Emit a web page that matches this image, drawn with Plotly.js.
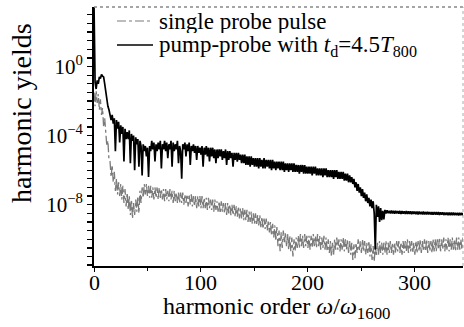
<!DOCTYPE html>
<html>
<head>
<meta charset="utf-8">
<script src="https://cdn.plot.ly/plotly-3.0.1.min.js"></script>
<style>html,body{margin:0;padding:0;background:#fff;}#chart{width:464px;height:327px;}</style>
</head>
<body>
<div id="chart"></div>
<script>
// harmonic order grid: 0..345 in steps of 1
const harmonicStart = 0;
const harmonicStep = 1;

// log10 of harmonic yield, pump-probe with t_d = 4.5 T800
const pumpProbeLog10 = [
 3.6, -0.9, -1.3, -0.8, -1.0, -0.6, -0.7, -0.45, -0.55, -0.6,
 -1.0, -1.5, -1.8, -2.3, -2.5, -2.9, -3.1, -2.8, -3.3, -3.0,
 -4.9, -3.1, -3.6, -3.2, -4.4, -3.4, -3.9, -3.5, -5.5, -3.6,
 -4.2, -3.8, -4.2, -3.7, -5.6, -3.9, -4.3, -4.0, -6.0, -4.1,
 -4.5, -4.2, -5.8, -4.3, -4.6, -6.3, -4.5, -4.9, -4.6, -5.2,
 -4.7, -6.4, -4.6, -4.9, -4.3, -4.8, -4.4, -5.5, -4.5, -4.9,
 -4.4, -4.8, -4.3, -5.9, -4.5, -4.8, -4.3, -4.9, -4.4, -5.3,
 -4.5, -4.8, -4.3, -5.8, -4.4, -4.9, -4.5, -4.8, -4.3, -5.6,
 -4.6, -4.9, -6.5, -4.5, -4.8, -4.4, -5.2, -4.5, -4.9, -4.4,
 -5.7, -4.6, -4.9, -4.5, -5.0, -4.6, -5.4, -4.6, -5.0, -4.7,
 -5.1, -4.6, -5.8, -4.7, -5.1, -4.6, -5.2, -4.7, -5.5, -4.7,
 -5.2, -4.7, -5.3, -4.8, -5.6, -4.8, -5.3, -4.8, -5.2, -4.8,
 -5.4, -4.9, -5.3, -4.8, -5.7, -4.9, -5.4, -4.9, -5.3, -5.0,
 -5.8, -5.0, -5.4, -5.0, -5.5, -5.0, -5.4, -5.1, -5.6, -5.1,
 -5.6, -5.1, -5.7, -5.2, -5.7, -5.2, -5.8, -5.2, -5.7, -5.3,
 -5.8, -5.3, -5.8, -5.3, -5.9, -5.3, -5.8, -5.4, -5.9, -5.3,
 -5.9, -5.4, -5.8, -5.4, -5.9, -5.4, -6.0, -5.4, -5.9, -5.5,
 -6.0, -5.5, -5.9, -5.5, -6.0, -5.5, -6.0, -5.5, -6.1, -5.6,
 -6.0, -5.6, -6.1, -5.6, -6.0, -5.6, -6.1, -5.6, -6.1, -5.7,
 -6.1, -5.7, -6.2, -5.7, -6.1, -5.7, -6.2, -5.7, -6.2, -5.8,
 -6.2, -5.8, -6.2, -5.8, -6.3, -5.8, -6.2, -5.8, -6.3, -5.9,
 -6.3, -5.9, -6.3, -5.9, -6.4, -5.9, -6.3, -5.9, -6.4, -6.0,
 -6.4, -6.0, -6.4, -6.0, -6.5, -6.0, -6.4, -6.0, -6.5, -6.1,
 -6.5, -6.1, -6.5, -6.1, -6.6, -6.2, -6.6, -6.2, -6.7, -6.3,
 -6.7, -6.4, -6.8, -6.5, -7.0, -6.7, -7.2, -6.8, -7.3, -7.0,
 -7.5, -7.1, -7.6, -7.3, -7.8, -7.4, -7.9, -7.6, -8.1, -7.7,
 -8.2, -7.8, -8.5, -10.6, -8.0, -8.7, -8.1, -9.0, -8.2, -8.9,
 -8.35, -8.85, -8.30, -8.50, -8.33, -8.49, -8.35, -8.51, -8.34, -8.50,
 -8.36, -8.52, -8.35, -8.51, -8.37, -8.52, -8.36, -8.53, -8.37, -8.52,
 -8.38, -8.53, -8.37, -8.54, -8.39, -8.53, -8.38, -8.55, -8.39, -8.54,
 -8.40, -8.55, -8.39, -8.56, -8.40, -8.55, -8.41, -8.56, -8.40, -8.57,
 -8.42, -8.56, -8.41, -8.57, -8.42, -8.57, -8.43, -8.58, -8.42, -8.57,
 -8.43, -8.58, -8.43, -8.59, -8.44, -8.58, -8.44, -8.60, -8.45, -8.59,
 -8.45, -8.60, -8.45, -8.61, -8.46, -8.60, -8.46, -8.61, -8.47, -8.61,
 -8.47, -8.62, -8.47, -8.61, -8.48, -8.62
];

// log10 of harmonic yield, single probe pulse
const singleProbeLog10 = [
 -1.5, -2.3, -1.4, -2.1, -1.6, -2.5, -1.9, -2.8, -2.4, -3.5,
 -3.0, -4.1, -4.6, -4.3, -5.4, -5.5, -6.4, -5.7, -6.7, -6.1,
 -7.2, -6.5, -7.4, -6.7, -7.5, -6.8, -7.7, -6.9, -7.9, -7.1,
 -8.1, -7.3, -8.3, -7.5, -8.6, -7.7, -8.8, -7.9, -8.6, -7.7,
 -8.4, -7.5, -8.5, -7.2, -7.9, -7.0, -7.6, -6.8, -7.4, -6.8,
 -7.5, -6.9, -7.6, -6.9, -7.6, -7.0, -7.7, -7.0, -7.6, -7.0,
 -7.7, -7.0, -7.6, -7.1, -7.7, -7.1, -7.8, -7.1, -7.7, -7.2,
 -7.8, -7.1, -7.7, -7.2, -7.9, -7.2, -7.8, -7.3, -7.9, -7.3,
 -7.9, -7.3, -7.9, -7.3, -8.0, -7.4, -7.9, -7.4, -8.1, -7.4,
 -8.0, -7.4, -8.1, -7.5, -8.1, -7.5, -8.2, -7.5, -8.1, -7.5,
 -8.2, -7.5, -8.2, -7.6, -8.2, -7.6, -8.3, -7.6, -8.2, -7.7,
 -8.3, -7.7, -8.4, -7.7, -8.3, -7.8, -8.4, -7.8, -8.5, -7.8,
 -8.4, -7.9, -8.5, -7.9, -8.6, -7.9, -8.5, -8.0, -8.6, -8.0,
 -8.6, -8.0, -8.7, -8.1, -8.7, -8.1, -8.8, -8.2, -8.8, -8.2,
 -8.9, -8.3, -8.9, -8.3, -9.0, -8.4, -9.0, -8.4, -9.1, -8.5,
 -9.1, -8.5, -9.2, -8.6, -9.2, -8.6, -9.3, -8.7, -9.4, -8.8,
 -9.4, -8.8, -9.5, -8.9, -9.6, -9.0, -9.8, -9.1, -9.9, -9.2,
 -10.1, -9.3, -10.4, -9.5, -10.7, -9.6, -10.5, -9.5, -10.2, -9.6,
 -10.4, -9.7, -10.6, -9.8, -10.7, -9.9, -11.0, -10.0, -10.7, -9.9,
 -10.5, -9.8, -10.5, -9.7, -10.4, -9.8, -10.5, -9.7, -10.4, -9.8,
 -10.5, -9.8, -10.6, -9.8, -10.5, -9.7, -10.4, -9.8, -10.5, -9.7,
 -10.4, -9.8, -10.6, -9.9, -10.5, -9.8, -10.6, -9.9, -10.7, -10.0,
 -10.8, -10.1, -11.0, -10.2, -10.9, -10.0, -10.6, -9.9, -10.6, -10.0,
 -10.7, -10.0, -10.6, -9.9, -10.7, -10.0, -10.6, -10.0, -10.8, -10.1,
 -10.9, -10.2, -11.2, -10.3, -11.1, -10.2, -10.8, -10.0, -10.7, -10.1,
 -10.8, -10.0, -10.7, -10.1, -10.9, -10.2, -10.8, -10.1, -11.0, -10.3,
 -11.2, -10.4, -11.3, -10.3, -11.0, -10.2, -10.9, -10.1, -10.8, -10.2,
 -10.9, -10.2, -10.8, -10.1, -10.9, -10.2, -10.8, -10.1, -10.8, -10.2,
 -10.9, -10.2, -10.8, -10.1, -10.7, -10.1, -10.8, -10.2, -10.9, -10.1,
 -10.8, -10.1, -10.7, -10.0, -10.8, -10.1, -10.7, -10.1, -10.8, -10.2,
 -10.9, -10.1, -10.8, -10.1, -10.7, -10.0, -10.8, -10.1, -10.7, -10.0,
 -10.7, -10.0, -10.8, -10.1, -10.7, -10.1, -10.8, -10.0, -10.7, -10.0,
 -10.7, -10.0, -10.6, -9.9, -10.7, -10.0, -10.6, -9.9, -10.7, -10.0,
 -10.6, -9.9, -10.7, -10.0, -10.6, -9.9, -10.6, -10.0, -10.7, -9.9,
 -10.6, -9.9, -10.6, -10.0, -10.6, -9.9
];

const seriesNames = [
  'single probe pulse',
  'pump-probe with <i>t</i><sub>d</sub>=4.5<i>T</i><sub>800</sub>'
];
const xTitle = 'harmonic order <i>\u03c9</i>/<i>\u03c9</i><sub>1600</sub>';
const yTitle = 'harmonic yields';
const xTickVals = [0, 100, 200, 300];
const xTickText = ['0', '100', '200', '300'];
const xMinorVals = [50, 150, 250];
const yLabelExp = [0, -4, -8];
const yLabelText = ['10<sup>0</sup>', '10<sup>\u22124</sup>', '10<sup>\u22128</sup>'];

const toYield = a => a.map(v => Math.pow(10, v));
const orders = a => a.map((_, i) => harmonicStart + i * harmonicStep);

// unlabeled tick marks on the other decades and every half decade
const yMinor = [];
for (let e = 3.5; e >= -11.5; e -= 0.5) {
  if (!yLabelExp.includes(e)) yMinor.push(Math.pow(10, e));
}

const serif = "'Liberation Serif', 'Times New Roman', serif";
const lineColors = ['#7a7a7a', '#000000'];

const traces = [
  {
    x: orders(singleProbeLog10), y: toYield(singleProbeLog10),
    type: 'scatter', mode: 'lines', name: seriesNames[0], showlegend: false,
    line: {color: lineColors[0], width: 1.3, dash: 'dashdot'}
  },
  {
    x: orders(pumpProbeLog10), y: toYield(pumpProbeLog10),
    type: 'scatter', mode: 'lines', name: seriesNames[1], showlegend: false,
    line: {color: lineColors[1], width: 1.7}
  }
];

// plot area in pixels: x 94..463, y 7..266
const L = 94, T = 7, W = 369, H = 259;
const px = v => (v - L) / W;
const py = v => (T + H - v) / H;

// x tick labels placed as text right under the axis (as in the reference)
const xTickLabels = xTickVals.map((v, i) => ({
  xref: 'x', yref: 'paper', x: v, y: py(282), xanchor: 'center', yanchor: 'middle',
  text: xTickText[i], showarrow: false, font: {family: serif, size: 22, color: '#000'}
}));

const layout = {
  width: 464, height: 327,
  margin: {l: L, r: 464 - L - W, t: T, b: 327 - T - H, pad: 0},
  paper_bgcolor: '#ffffff', plot_bgcolor: '#ffffff',
  showlegend: false,
  xaxis: {
    range: [0, 345], showgrid: false, zeroline: false, automargin: false,
    showline: true, linecolor: '#000', linewidth: 1.5,
    ticks: 'outside', ticklen: 4, tickwidth: 1, tickcolor: '#000',
    tickmode: 'array', tickvals: xTickVals, showticklabels: false,
    minor: {tickmode: 'array', tickvals: xMinorVals, ticks: 'outside', ticklen: 3, tickcolor: '#000'}
  },
  yaxis: {
    type: 'log', range: [-11.55, 3.45], showgrid: false, zeroline: false, automargin: false,
    showline: true, linecolor: '#000', linewidth: 2,
    ticks: 'outside', ticklen: 5, tickwidth: 1.5, tickcolor: '#000',
    tickmode: 'array', tickvals: yLabelExp.map(e => Math.pow(10, e)), ticktext: yLabelText,
    minor: {tickmode: 'array', tickvals: yMinor, ticks: 'outside', ticklen: 5, tickwidth: 1.3, tickcolor: '#000'},
    tickfont: {family: serif, size: 21, color: '#000'}
  },
  annotations: xTickLabels.concat([
    {xref: 'paper', yref: 'paper', x: px(276.5), y: py(308), xanchor: 'center', yanchor: 'middle',
     text: xTitle, showarrow: false, font: {family: serif, size: 24, color: '#000'}},
    {xref: 'paper', yref: 'paper', x: px(22), y: py(113), xanchor: 'center', yanchor: 'middle',
     text: yTitle, textangle: -90, showarrow: false, font: {family: serif, size: 28, color: '#000'}},
    {xref: 'paper', yref: 'paper', x: px(157), y: py(21), xanchor: 'left', yanchor: 'middle',
     height: 23, valign: 'middle',
     text: seriesNames[0], showarrow: false, font: {family: serif, size: 23, color: '#000'}},
    {xref: 'paper', yref: 'paper', x: px(157), y: py(46), xanchor: 'left', yanchor: 'middle',
     height: 26, valign: 'middle',
     text: seriesNames[1], showarrow: false, font: {family: serif, size: 23, color: '#000'}}
  ]),
  shapes: [
    {type: 'line', xref: 'paper', yref: 'paper', x0: 0, x1: 1, y0: 1, y1: 1, line: {color: '#888', width: 1.5, dash: 'dot'}},
    {type: 'line', xref: 'paper', yref: 'paper', x0: 1, x1: 1, y0: 0, y1: 1, line: {color: '#aaa', width: 1, dash: 'dot'}},
    {type: 'line', xref: 'paper', yref: 'paper', x0: px(117), x1: px(151), y0: py(21), y1: py(21), line: {color: lineColors[0], width: 1.2, dash: 'dashdot'}},
    {type: 'line', xref: 'paper', yref: 'paper', x0: px(117), x1: px(153), y0: py(45), y1: py(45), line: {color: lineColors[1], width: 1.7}}
  ]
};

Plotly.newPlot('chart', traces, layout, {staticPlot: true, displayModeBar: false});
</script>
</body>
</html>
